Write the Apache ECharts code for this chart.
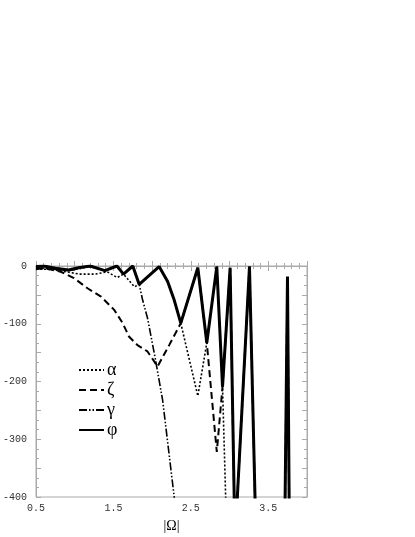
<!DOCTYPE html>
<html>
<head>
<meta charset="utf-8">
<script src="https://cdn.jsdelivr.net/npm/echarts@6/dist/echarts.min.js"></script>
<style>
  html, body { margin: 0; padding: 0; background: #fff; }
  #chart { width: 415px; height: 537px; }
</style>
</head>
<body>
<div id="chart"></div>
<script>
// values, |Omega| on x
var phiX = [0.5, 0.6, 0.75, 0.92, 1.05, 1.2, 1.39, 1.545, 1.63, 1.75, 1.833, 2.09, 2.2, 2.285, 2.37, 2.59, 2.706, 2.835, 2.909, 3.007, 3.07, 3.257, 3.35, 3.70, 3.748, 3.78, 4.0];
var phiY = [-1, 0, -4, -7, -3, 0, -8, 0, -14, 0, -32, -1, -27, -59, -99, -3, -133, -1, -209, -3, -477, -1, -520, -620, -18, -600, -600];

var alphaX = [0.5, 0.7, 0.89, 1.06, 1.27, 1.42, 1.55, 1.63, 1.7, 1.77, 1.833, 2.09, 2.2, 2.285, 2.37, 2.59, 2.706, 2.835, 2.909, 2.96];
var alphaY = [-5, -6, -10, -14, -14, -10, -20, -14, -25, -36, -32, -1, -27, -59, -99, -225, -133, -1, -209, -450];

var zetaX = [0.5, 0.65, 0.82, 0.99, 1.17, 1.34, 1.51, 1.62, 1.70, 1.81, 1.94, 2.07, 2.22, 2.37, 2.59, 2.706, 2.835, 2.909, 3.007, 3.07, 3.257, 3.35, 3.70, 3.748, 3.78, 4.0];
var zetaY = [-3, -5, -10, -21, -39, -53, -76, -99, -122, -137, -148, -174, -137, -99, -3, -133, -322, -209, -3, -477, -1, -520, -620, -18, -600, -600];

var gammaX = [0.5, 0.6, 0.75, 0.92, 1.05, 1.2, 1.39, 1.545, 1.63, 1.75, 1.833, 1.877, 1.94, 2.04, 2.135, 2.21, 2.285, 2.31];
var gammaY = [-6, -4, -6, -8, -5, -1, -8, 0, -14, 0, -32, -59, -90, -160, -232, -316, -400, -445];

function pairs(xs, ys) {
  return xs.map(function (x, i) { return [x, ys[i]]; });
}

var frame = '#aaa';
var labelFont = { fontFamily: 'Liberation Mono', fontSize: 10, color: '#333' };

var chart = echarts.init(document.getElementById('chart'));

var option = {
  animation: false,
  backgroundColor: '#fff',
  color: ['#000', '#000', '#000', '#000'],
  grid: { left: 35, right: 108, top: 266, bottom: 40, show: true, borderColor: frame, borderWidth: 1 },
  legend: {
    data: ['α', 'ζ', 'γ', 'φ'],
    orient: 'vertical',
    left: 78,
    top: 360,
    padding: 0,
    itemWidth: 25,
    itemHeight: 14,
    itemGap: 0,
    itemStyle: { opacity: 0 },
    textStyle: { fontFamily: 'Liberation Serif', fontSize: 18, color: '#000', lineHeight: 20, padding: [0, 0, 0, -2] }
  },
  xAxis: [{
    type: 'value', min: 0.5, max: 4, interval: 0.5,
    name: '|Ω|', nameLocation: 'middle', nameGap: 22,
    nameTextStyle: { fontFamily: 'Liberation Serif', fontSize: 14, color: '#000' },
    axisLine: { lineStyle: { color: frame } },
    axisTick: { inside: true, length: 5, lineStyle: { color: frame } },
    minorTick: { show: true, splitNumber: 5, length: 3, lineStyle: { color: frame } },
    splitLine: { show: false },
    axisLabel: Object.assign({
      margin: 6,
      showMaxLabel: false,
      formatter: function (v) { return Math.abs((v - 0.5) % 1) < 1e-6 ? v.toFixed(1) : ''; }
    }, labelFont)
  }, {
    type: 'value', min: 0.5, max: 4, interval: 0.5, position: 'top',
    axisLine: { lineStyle: { color: frame } },
    axisTick: { inside: true, length: 5, lineStyle: { color: frame } },
    minorTick: { show: true, splitNumber: 5, length: 3, lineStyle: { color: frame } },
    splitLine: { show: false },
    axisLabel: { show: false }
  }],
  yAxis: [{
    type: 'value', min: -400, max: 0, interval: 50,
    axisLine: { lineStyle: { color: frame } },
    axisTick: { inside: true, length: 5, lineStyle: { color: frame } },
    minorTick: { show: true, splitNumber: 3, length: 3, lineStyle: { color: frame } },
    splitLine: { show: false },
    axisLabel: Object.assign({
      margin: 9,
      formatter: function (v) { return v % 100 === 0 ? String(v) : ''; }
    }, labelFont)
  }, {
    type: 'value', min: -400, max: 0, interval: 50, position: 'right',
    axisLine: { lineStyle: { color: frame } },
    axisTick: { inside: true, length: 5, lineStyle: { color: frame } },
    minorTick: { show: true, splitNumber: 3, length: 3, lineStyle: { color: frame } },
    splitLine: { show: false },
    axisLabel: { show: false }
  }],
  series: [{
    name: 'α', type: 'line', symbol: 'none', clip: true,
    data: pairs(alphaX, alphaY),
    lineStyle: { color: '#000', width: 1.6, type: [2, 2] }
  }, {
    name: 'ζ', type: 'line', symbol: 'none', clip: true,
    data: pairs(zetaX, zetaY),
    lineStyle: { color: '#000', width: 2, type: [7, 4] }
  }, {
    name: 'γ', type: 'line', symbol: 'none', clip: true,
    data: pairs(gammaX, gammaY),
    lineStyle: { color: '#000', width: 1.6, type: [8, 2, 1.5, 2, 1.5, 2] }
  }, {
    name: 'φ', type: 'line', symbol: 'none', clip: true,
    data: pairs(phiX, phiY),
    lineStyle: { color: '#000', width: 3 }
  }]
};

chart.setOption(option);
</script>
</body>
</html>
